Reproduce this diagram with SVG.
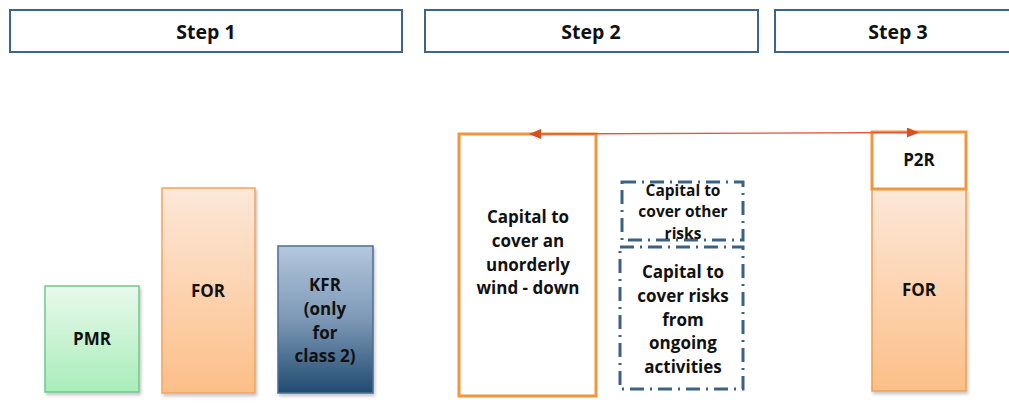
<svg xmlns="http://www.w3.org/2000/svg" width="1009" height="407" viewBox="0 0 1009 407">
  <style>
    text { font-family: "Open Sans", "Liberation Sans", sans-serif; font-weight: bold; fill: #111; text-anchor: middle; }
    .step { fill: #fff; stroke: #3d6587; stroke-width: 2; }
    .steplbl { font-size: 19.5px; }
    .lbl { font-size: 17px; }
    .small { font-size: 15.5px; }
    .dash { fill: none; stroke: #3b6283; stroke-width: 3; stroke-dasharray: 14 6 2 6; }
    .wind { fill: #fff; stroke: #f0963c; stroke-width: 3; }
  </style>
  <defs>
    <linearGradient id="gGreen" x1="0" y1="0" x2="0" y2="1">
      <stop offset="0" stop-color="#e9f9ec"/>
      <stop offset="1" stop-color="#a8edb9"/>
    </linearGradient>
    <linearGradient id="gOrange" x1="0" y1="0" x2="0" y2="1">
      <stop offset="0" stop-color="#fde8d9"/>
      <stop offset="1" stop-color="#fcbf88"/>
    </linearGradient>
    <linearGradient id="gBlue" x1="0" y1="0" x2="0" y2="1">
      <stop offset="0" stop-color="#b4c7dd"/>
      <stop offset="0.5" stop-color="#7d98b6"/>
      <stop offset="1" stop-color="#1f4b70"/>
    </linearGradient>
    <filter id="shadow" x="-10%" y="-10%" width="130%" height="130%">
      <feDropShadow dx="1.5" dy="2.5" stdDeviation="1.8" flood-color="#000" flood-opacity="0.22"/>
    </filter>
    <marker id="arrowHead" markerWidth="12" markerHeight="10" refX="11" refY="5" orient="auto-start-reverse" markerUnits="userSpaceOnUse">
      <path d="M0,0 L12,5 L0,10 Z" fill="#d9501f"/>
    </marker>
  </defs>

  <!-- step headers -->
  <g id="step1">
    <rect class="step" x="10" y="10" width="392" height="42"/>
    <text class="steplbl" x="206" y="39">Step 1</text>
  </g>
  <g id="step2">
    <rect class="step" x="425" y="10" width="333" height="42"/>
    <text class="steplbl" x="591" y="39">Step 2</text>
  </g>
  <g id="step3">
    <rect class="step" x="775" y="10" width="246" height="42"/>
    <text class="steplbl" x="898" y="39">Step 3</text>
  </g>

  <!-- step 1 requirements -->
  <g id="pmr">
    <rect x="45" y="286" width="94" height="106" fill="url(#gGreen)" stroke="#72c98a" stroke-width="1.5" filter="url(#shadow)"/>
    <text class="lbl" x="92" y="345">PMR</text>
  </g>
  <g id="for1">
    <rect x="162" y="188" width="93" height="205" fill="url(#gOrange)" stroke="#f2a55c" stroke-width="1.5" filter="url(#shadow)"/>
    <text class="lbl" x="208" y="297">FOR</text>
  </g>
  <g id="kfr">
    <rect x="278" y="246" width="95" height="147" fill="url(#gBlue)" stroke="#4a6f91" stroke-width="1.5" filter="url(#shadow)"/>
    <text class="lbl" x="325" y="291">KFR</text>
    <text class="lbl" x="325" y="315">(only</text>
    <text class="lbl" x="325" y="339">for</text>
    <text class="lbl" x="325" y="362">class 2)</text>
  </g>

  <!-- step 2 capital -->
  <g id="winddown">
    <rect class="wind" x="459" y="134" width="137" height="262"/>
    <text class="lbl" x="528" y="223">Capital to</text>
    <text class="lbl" x="528" y="247">cover an</text>
    <text class="lbl" x="528" y="271">unorderly</text>
    <text class="lbl" x="528" y="294">wind - down</text>
  </g>
  <g id="otherrisks">
    <rect class="dash" x="622" y="182" width="121" height="58"/>
    <text class="small" x="683" y="196">Capital to</text>
    <text class="small" x="683" y="217">cover other</text>
    <text class="small" x="683" y="239">risks</text>
  </g>
  <g id="ongoing">
    <rect class="dash" x="620" y="247" width="123" height="142"/>
    <text class="lbl" x="683" y="278">Capital to</text>
    <text class="lbl" x="683" y="302">cover risks</text>
    <text class="lbl" x="683" y="326">from</text>
    <text class="lbl" x="683" y="349">ongoing</text>
    <text class="lbl" x="683" y="373">activities</text>
  </g>

  <!-- step 3 requirements -->
  <g id="for3">
    <rect x="872" y="189" width="94" height="202" fill="url(#gOrange)" stroke="#f0a050" stroke-width="1.5" filter="url(#shadow)"/>
    <text class="lbl" x="919" y="296">FOR</text>
  </g>
  <g id="p2r">
    <rect x="872" y="132" width="94" height="57" fill="#fff" stroke="#f0963c" stroke-width="3"/>
    <text class="lbl" x="919" y="166">P2R</text>
  </g>

  <!-- connectors -->
  <g id="connectors">
    <line x1="530" y1="134" x2="918" y2="132.5" stroke="#e0583e" stroke-width="1.3" marker-start="url(#arrowHead)" marker-end="url(#arrowHead)"/>
  </g>
</svg>
